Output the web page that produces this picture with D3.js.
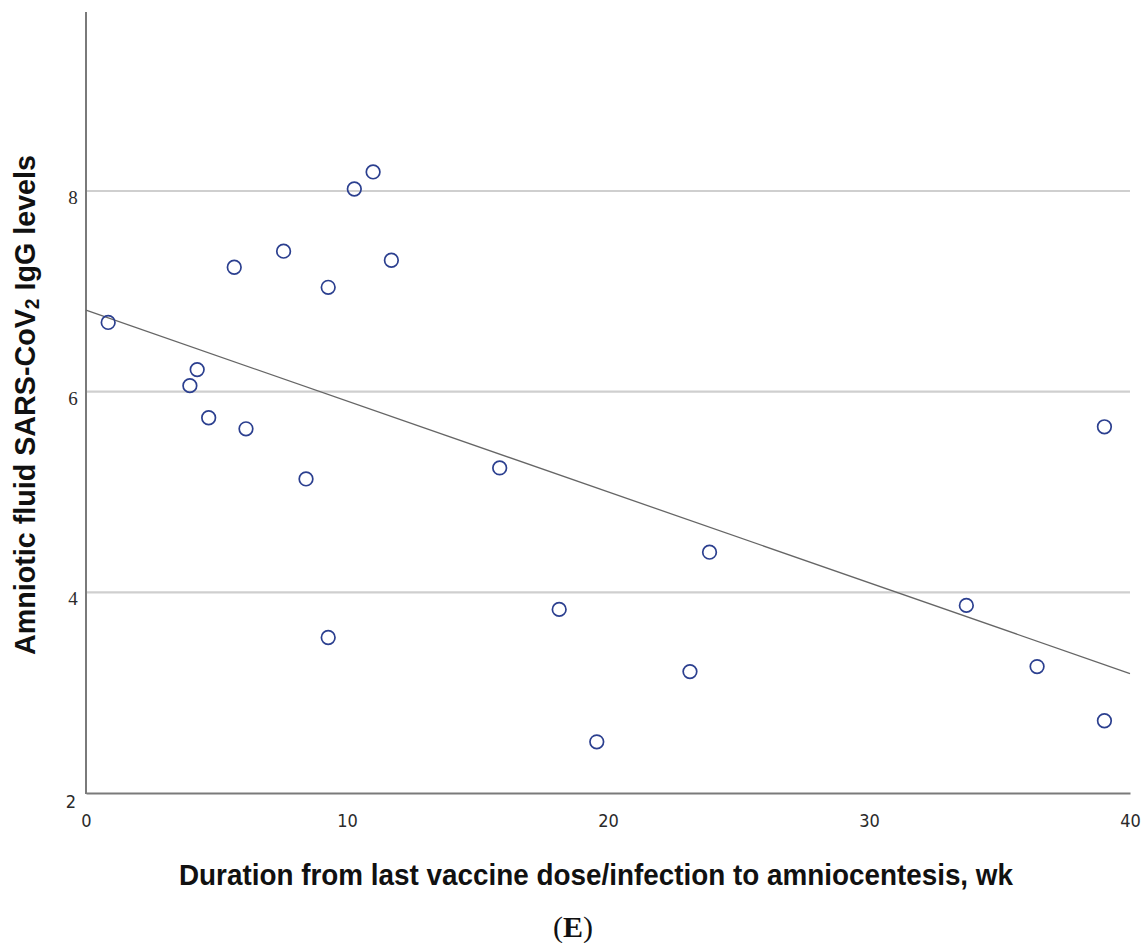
<!DOCTYPE html>
<html>
<head>
<meta charset="utf-8">
<script src="https://cdn.jsdelivr.net/npm/d3@7"></script>
<style>
  html, body { margin: 0; padding: 0; background: #fff; }
  svg { display: block; }
</style>
</head>
<body>
<svg id="chart" width="1146" height="943"></svg>
<script>
// Duration from last vaccine dose/infection to amniocentesis (wk)
const weeks = [0.85, 3.98, 4.26, 4.70, 5.68, 6.13, 7.57, 8.43, 9.28, 9.28, 10.28,
               11.00, 11.70, 15.85, 18.13, 19.57, 23.14, 23.89, 33.73, 36.44, 39.02, 39.02];
// Amniotic fluid SARS-CoV2 IgG levels
const igg   = [6.69, 6.06, 6.22, 5.74, 7.24, 5.63, 7.40, 5.13, 7.04, 3.55, 8.02,
               8.19, 7.31, 5.24, 3.83, 2.51, 3.21, 4.40, 3.87, 3.26, 5.65, 2.72];
const xTicks = [0, 10, 20, 30, 40];
const yTicks = [2, 4, 6, 8];
const xDomain = [0, 40];

const svg = d3.select("#chart");
const mLeft = 86, mRight = 1130, mTop = 12, mBottom = 793;

const x = d3.scaleLinear().domain(xDomain).range([mLeft, mRight]);
const y = d3.scaleLinear().domain([2, 8]).range([mBottom, 191]);

// gridlines
svg.append("g")
  .selectAll("line")
  .data(yTicks.filter(d => d > 2))
  .join("line")
  .attr("x1", mLeft).attr("x2", mRight)
  .attr("y1", d => y(d)).attr("y2", d => y(d))
  .attr("stroke", "#cfcfcf").attr("stroke-width", 2.2);

// x axis
const xAxis = d3.axisBottom(x).tickValues(xTicks).tickSize(0).tickFormat(d3.format("d"));
const gx = svg.append("g").attr("transform", `translate(0,${mBottom})`).call(xAxis);
gx.select(".domain").attr("stroke", "#7a7a7a").attr("stroke-width", 2);
gx.selectAll(".tick text")
  .attr("dy", null)
  .attr("y", 34)
  .attr("font-family", "'DejaVu Sans Condensed', sans-serif")
  .attr("font-size", 18)
  .attr("fill", "#2a2a2a");

// y axis
const yAxis = d3.axisLeft(y).tickValues(yTicks).tickSize(0).tickFormat(d3.format("d"));
const gy = svg.append("g").attr("transform", `translate(${mLeft},0)`).call(yAxis);
gy.select(".domain").remove();
gy.selectAll(".tick text")
  .attr("dy", null)
  .attr("x", d => d === 2 ? -15 : -13)
  .attr("y", d => d === 2 ? 14 : 12.5)
  .attr("text-anchor", "middle")
  .attr("font-family", d => d === 2 ? "'DejaVu Sans Condensed', sans-serif" : "'Liberation Serif', serif")
  .attr("font-size", d => d === 2 ? 18 : 19)
  .attr("fill", "#2a2a2a");

svg.append("line")
  .attr("x1", mLeft).attr("x2", mLeft)
  .attr("y1", mTop).attr("y2", mBottom + 1)
  .attr("stroke", "#7a7a7a").attr("stroke-width", 2);

// regression line (least squares from data)
const mx = d3.mean(weeks), my = d3.mean(igg);
const sxy = d3.sum(weeks, (w, i) => (w - mx) * (igg[i] - my));
const sxx = d3.sum(weeks, w => (w - mx) * (w - mx));
const slope = sxy / sxx, intercept = my - slope * mx;
svg.append("line")
  .attr("x1", x(xDomain[0])).attr("y1", y(intercept + slope * xDomain[0]))
  .attr("x2", x(xDomain[1])).attr("y2", y(intercept + slope * xDomain[1]))
  .attr("stroke", "#666").attr("stroke-width", 1.3);

// points
svg.append("g")
  .selectAll("circle")
  .data(weeks.map((w, i) => [w, igg[i]]))
  .join("circle")
  .attr("cx", d => x(d[0]))
  .attr("cy", d => y(d[1]))
  .attr("r", 6.8)
  .attr("fill", "none")
  .attr("stroke", "#2b3f8f")
  .attr("stroke-width", 1.7);

// axis titles
svg.append("text")
  .attr("x", 179).attr("y", 885)
  .attr("text-anchor", "start")
  .attr("font-family", "'Liberation Sans', Arial, sans-serif")
  .attr("font-weight", "bold")
  .attr("font-size", 30)
  .attr("textLength", 834)
  .attr("lengthAdjust", "spacingAndGlyphs")
  .attr("fill", "#111")
  .text("Duration from last vaccine dose/infection to amniocentesis, wk");

const yt = svg.append("text")
  .attr("transform", "translate(35,655) rotate(-90)")
  .attr("text-anchor", "start")
  .attr("font-family", "'Liberation Sans', Arial, sans-serif")
  .attr("font-weight", "bold")
  .attr("font-size", 30)
  .attr("textLength", 500)
  .attr("lengthAdjust", "spacingAndGlyphs")
  .attr("fill", "#111");
yt.append("tspan").text("Amniotic fluid SARS-CoV");
yt.append("tspan").attr("font-size", 20).attr("dy", 4).text("2");
yt.append("tspan").attr("dy", -4).text(" IgG levels");

svg.append("text")
  .attr("x", 573).attr("y", 937)
  .attr("text-anchor", "middle")
  .attr("font-family", "'Liberation Serif', 'Times New Roman', serif")
  .attr("font-size", 30)
  .attr("fill", "#111")
  .html("(<tspan font-weight='bold'>E</tspan>)");
</script>
</body>
</html>
